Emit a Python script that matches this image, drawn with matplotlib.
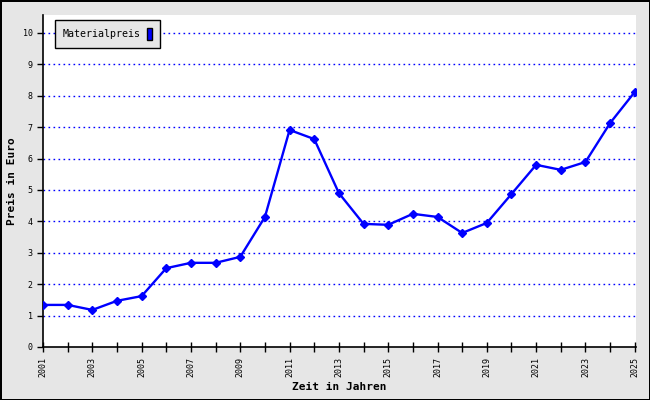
import numpy as np
import matplotlib.pyplot as plt
from matplotlib.patches import Patch

# Materialpreis per year
years = list(range(2001, 2026))
preis = [1.34, 1.34, 1.18, 1.47, 1.62, 2.51, 2.68, 2.68, 2.87, 4.14,
         6.91, 6.62, 4.90, 3.92, 3.89, 4.24, 4.14, 3.63, 3.95, 4.87,
         5.80, 5.64, 5.89, 7.13, 8.12]
yticks = list(range(0, 11))
xticks = list(range(2001, 2026, 2))

mono = 'DejaVu Sans Mono'
bg = '#e6e6e6'

fig = plt.figure(figsize=(6.5, 4.0), dpi=100, facecolor=bg,
                 edgecolor='black', linewidth=2)
ax = fig.add_axes([43/650, 53/400, 593/650, 332/400])
ax.set_facecolor('white')

for v in yticks[1:]:
    ax.axhline(v, color='blue', lw=1, ls=(0, (1.2, 2.4)), zorder=1)

ax.plot(years, preis, color='blue', lw=1.7, marker='D', ms=4, zorder=3)

ax.set_xlim(2001, 2025.05)
ax.set_ylim(0, 10.57)
ax.set_xticks(years, minor=True)
ax.set_xticks(xticks)
ax.set_xticklabels([str(x) for x in xticks], rotation=90, fontfamily=mono, fontsize=6)
ax.set_yticks(yticks)
ax.set_yticklabels([str(y) for y in yticks], fontfamily=mono, fontsize=6)
ax.tick_params(axis='x', which='both', direction='inout', length=7, width=1)
ax.tick_params(axis='y', direction='out', length=4, width=1)

for s in ['top', 'right']:
    ax.spines[s].set_visible(False)
for s in ['left', 'bottom']:
    ax.spines[s].set_linewidth(1.2)

ax.set_xlabel('Zeit in Jahren', fontfamily=mono, fontweight='bold', fontsize=8, labelpad=4)
ax.set_ylabel('Preis in Euro', fontfamily=mono, fontweight='bold', fontsize=8, labelpad=4)

leg = ax.legend(handles=[Patch(facecolor='blue', edgecolor='black', label='Materialpreis')],
                loc='upper left', bbox_to_anchor=(0.02, 0.985), borderaxespad=0,
                markerfirst=False, prop={'family': mono, 'size': 7.2}, fancybox=False,
                framealpha=1, handlelength=0.5, handleheight=1.5, borderpad=0.8,
                handletextpad=0.6)
leg.get_frame().set_facecolor(bg)
leg.get_frame().set_edgecolor('black')
leg.get_frame().set_linewidth(1)

fig.savefig('out.png', dpi=100, facecolor=bg, edgecolor='black')
